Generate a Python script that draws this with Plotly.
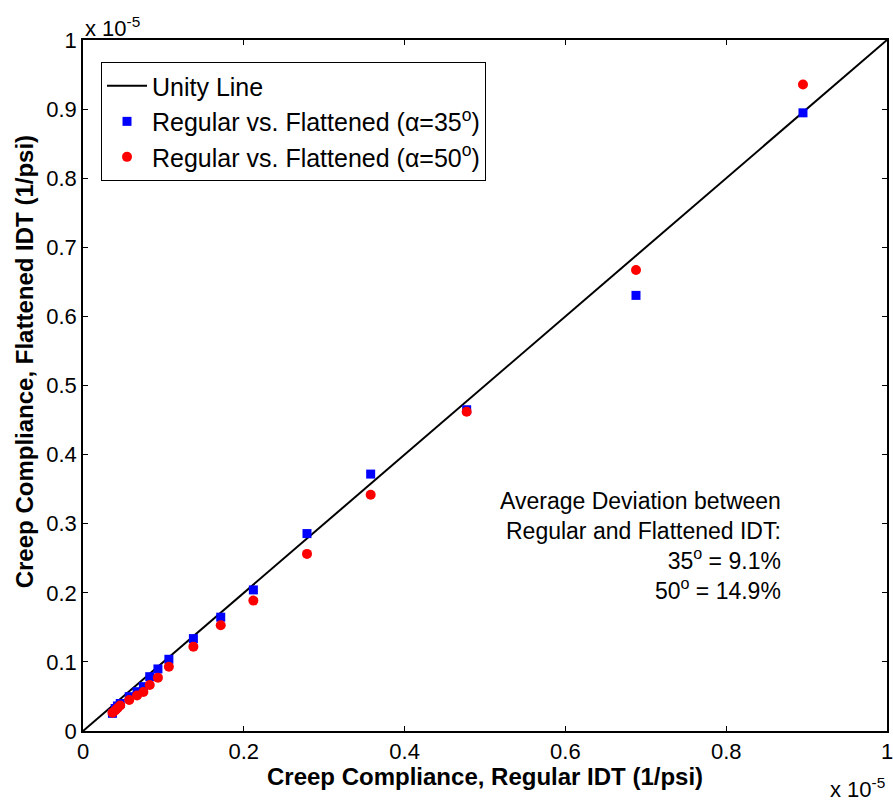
import plotly.graph_objects as go

# Creep compliance values, in units of 1e-5 (1/psi)
regular_idt = [0.0366, 0.0400, 0.0428, 0.0463, 0.0575, 0.0672, 0.0751, 0.0830, 0.0932,
               0.1068, 0.1373, 0.1713, 0.2119, 0.2786, 0.3578, 0.4772, 0.6878, 0.8955]
flattened_35 = [0.0256, 0.0326, 0.0362, 0.0398, 0.0497, 0.0569, 0.0642, 0.0786, 0.0898,
                0.1038, 0.1337, 0.1647, 0.2042, 0.2857, 0.3718, 0.4649, 0.6304, 0.8946]
flattened_50 = [0.0265, 0.0297, 0.0329, 0.0369, 0.0449, 0.0514, 0.0565, 0.0666, 0.0772,
                0.0931, 0.1221, 0.1531, 0.1887, 0.2563, 0.3418, 0.4620, 0.6672, 0.9356]
unity_x = [0, 1]
unity_y = [0, 1]

x_ticks = [0, 0.2, 0.4, 0.6, 0.8, 1]
x_tick_labels = ["0", "0.2", "0.4", "0.6", "0.8", "1"]
y_ticks = [0, 0.1, 0.2, 0.3, 0.4, 0.5, 0.6, 0.7, 0.8, 0.9, 1]
y_tick_labels = ["0", "0.1", "0.2", "0.3", "0.4", "0.5", "0.6", "0.7", "0.8", "0.9", "1"]

FONT = "Liberation Sans, Arial, sans-serif"

fig = go.Figure()
fig.add_trace(go.Scatter(x=unity_x, y=unity_y, mode="lines", name="Unity Line",
                         line=dict(color="black", width=2)))
fig.add_trace(go.Scatter(x=regular_idt, y=flattened_35, mode="markers",
                         name="Regular vs. Flattened (α=35<sup>o</sup>)",
                         marker=dict(symbol="square", color="#0000ff", size=9)))
fig.add_trace(go.Scatter(x=regular_idt, y=flattened_50, mode="markers",
                         name="Regular vs. Flattened (α=50<sup>o</sup>)",
                         marker=dict(symbol="circle", color="#ff0000", size=10)))

axis_common = dict(showgrid=False, zeroline=False, showline=True, linecolor="black",
                   linewidth=1.5, mirror="ticks", ticks="inside", ticklen=5,
                   tickcolor="black", automargin=False, ticklabeloverflow="allow",
                   tickfont=dict(family=FONT, size=22, color="black"))

fig.update_xaxes(range=[0, 1], tickvals=x_ticks, ticktext=x_tick_labels, **axis_common)
fig.update_yaxes(range=[0, 1], tickvals=y_ticks, ticktext=y_tick_labels, **axis_common)

# axis titles
fig.add_annotation(xref="paper", yref="paper", x=0.5, y=-0.066, xanchor="center",
                   yanchor="middle", showarrow=False,
                   text="<b>Creep Compliance, Regular IDT (1/psi)</b>",
                   font=dict(family=FONT, size=24, color="black"))
fig.add_annotation(xref="paper", yref="paper", x=-0.0734, y=0.535, xanchor="center",
                   yanchor="middle", showarrow=False, textangle=-90,
                   text="<b>Creep Compliance, Flattened IDT (1/psi)</b>",
                   font=dict(family=FONT, size=24, color="black"))

# exponent multipliers
fig.add_annotation(xref="paper", yref="paper", x=0, y=1.019, xanchor="left", yanchor="middle",
                   text="x 10<sup>-5</sup>", showarrow=False,
                   font=dict(family=FONT, size=22, color="black"))
fig.add_annotation(xref="paper", yref="paper", x=1, y=-0.083, xanchor="right", yanchor="middle",
                   text="x 10<sup>-5</sup>", showarrow=False,
                   font=dict(family=FONT, size=22, color="black"))

fig.add_annotation(xref="paper", yref="paper", x=0.871, y=0.355, xanchor="right", yanchor="top",
                   align="right", showarrow=False,
                   text=("Average Deviation between<br>Regular and Flattened IDT:<br>"
                         "35<sup>o</sup> = 9.1%<br>50<sup>o</sup> = 14.9%"),
                   font=dict(family=FONT, size=23, color="black"))

fig.update_layout(
    width=893, height=801,
    margin=dict(l=83, r=6, t=40, b=70),
    paper_bgcolor="white", plot_bgcolor="white",
    font=dict(family=FONT, color="black"),
    legend=dict(x=0.0224, y=0.968, xanchor="left", yanchor="top",
                bgcolor="white", bordercolor="black", borderwidth=1,
                font=dict(family=FONT, size=25, color="black"),
                itemwidth=40, tracegroupgap=0),
    showlegend=True,
)

fig.write_html("out.html", config={"displayModeBar": False},
               post_script="document.body.style.margin='0';document.body.style.overflow='hidden';")
